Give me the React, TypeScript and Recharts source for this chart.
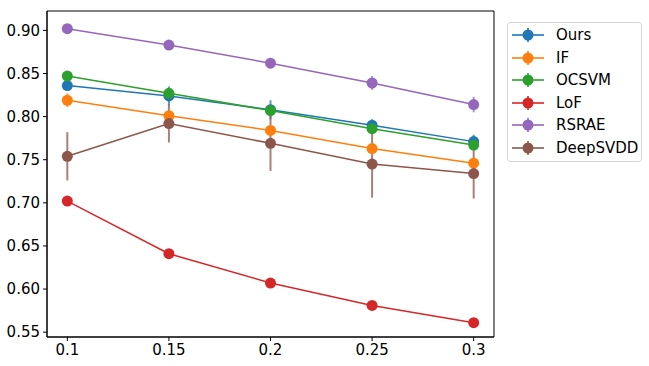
import React from "react";
import {
  LineChart,
  Line,
  XAxis,
  YAxis,
  ErrorBar,
  ReferenceArea,
} from "recharts";

// contamination ratios on the x axis
const ratios = [0.1, 0.15, 0.2, 0.25, 0.3];
const xTicks = [0.1, 0.15, 0.2, 0.25, 0.3];
const yTicks = [0.55, 0.6, 0.65, 0.7, 0.75, 0.8, 0.85, 0.9];

const oursVals = [0.836, 0.824, 0.808, 0.79, 0.771];
const oursErr = [0.004, 0.011, 0.011, 0.007, 0.008];
const ifVals = [0.819, 0.801, 0.784, 0.763, 0.746];
const ifErr = [0.008, 0.004, 0.004, 0.004, 0.004];
const ocsvmVals = [0.847, 0.827, 0.807, 0.786, 0.767];
const ocsvmErr = [0.003, 0.005, 0.005, 0.004, 0.004];
const lofVals = [0.702, 0.641, 0.607, 0.581, 0.561];
const lofErr = [0.002, 0.002, 0.002, 0.002, 0.002];
const rsraeVals = [0.902, 0.883, 0.862, 0.839, 0.814];
const rsraeErr = [0.003, 0.003, 0.004, 0.008, 0.009];
const deepVals = [0.754, 0.792, 0.769, 0.745, 0.734];
const deepErr = [0.028, 0.022, 0.032, 0.039, 0.029];

const series = [
  { key: "ours", name: "Ours", color: "#1f77b4", vals: oursVals, err: oursErr },
  { key: "if", name: "IF", color: "#ff7f0e", vals: ifVals, err: ifErr },
  { key: "ocsvm", name: "OCSVM", color: "#2ca02c", vals: ocsvmVals, err: ocsvmErr },
  { key: "lof", name: "LoF", color: "#d62728", vals: lofVals, err: lofErr },
  { key: "rsrae", name: "RSRAE", color: "#9467bd", vals: rsraeVals, err: rsraeErr },
  { key: "deep", name: "DeepSVDD", color: "#8c564b", vals: deepVals, err: deepErr },
];

const data = ratios.map((x, i) => {
  const row: Record<string, number> = { x };
  series.forEach((s) => {
    row[s.key] = s.vals[i];
    row[s.key + "Err"] = s.err[i];
  });
  return row;
});

const FONT = "'DejaVu Sans', sans-serif";
const X_DOMAIN: [number, number] = [0.09, 0.31];
const Y_DOMAIN: [number, number] = [0.5444, 0.9225];

const tickStyle = { fontSize: 15, fill: "#000", fontFamily: FONT };

const LegendBox = () => (
  <div
    style={{
      position: "absolute",
      left: 507,
      top: 22,
      width: 133,
      height: 138,
      border: "1px solid #d6d6d6",
      borderRadius: 3,
      background: "#fff",
      fontFamily: FONT,
      fontSize: 15,
    }}
  >
    {series.map((s, i) => (
      <div
        key={s.key}
        style={{
          position: "absolute",
          left: 0,
          top: 1 + i * 22.5,
          height: 22,
          display: "flex",
          alignItems: "center",
        }}
      >
        <svg width={46} height={22} style={{ display: "block" }}>
          <line x1={4} x2={36} y1={11} y2={11} stroke={s.color} strokeWidth={2} strokeOpacity={0.8} />
          <line x1={20} x2={20} y1={4} y2={18} stroke={s.color} strokeWidth={2} strokeOpacity={0.8} />
          <circle cx={20} cy={11} r={5.5} fill={s.color} />
        </svg>
        <span style={{ marginLeft: 2, color: "#000" }}>{s.name}</span>
      </div>
    ))}
  </div>
);

export default function App() {
  return (
    <div
      style={{
        position: "absolute",
        left: 0,
        top: 0,
        width: 649,
        height: 366,
        background: "#fff",
      }}
    >
      <LineChart
        width={649}
        height={366}
        data={data}
        margin={{ top: 11, right: 155, bottom: 0, left: 0 }}
      >
        <XAxis
          dataKey="x"
          type="number"
          domain={X_DOMAIN}
          ticks={xTicks}
          allowDataOverflow
          tickFormatter={(v: number) => String(v)}
          tick={tickStyle}
          tickSize={4}
          tickMargin={3}
          height={29}
          stroke="#000"
          interval={0}
        />
        <YAxis
          type="number"
          domain={Y_DOMAIN}
          ticks={yTicks}
          allowDataOverflow
          tickFormatter={(v: number) => v.toFixed(2)}
          tick={tickStyle}
          tickSize={4}
          tickMargin={3}
          width={47}
          stroke="#000"
          interval={0}
        />
        <ReferenceArea
          x1={X_DOMAIN[0]}
          x2={X_DOMAIN[1]}
          y1={Y_DOMAIN[0]}
          y2={Y_DOMAIN[1]}
          fill="none"
          fillOpacity={0}
          stroke="#000"
          strokeWidth={1}
          strokeOpacity={1}
        />
        {series.map((s) => (
          <Line
            key={s.key}
            dataKey={s.key}
            name={s.name}
            type="linear"
            stroke={s.color}
            strokeWidth={1.5}
            dot={{ r: 5.5, fill: s.color, stroke: s.color, strokeWidth: 0 }}
            activeDot={false}
            isAnimationActive={false}
          >
            <ErrorBar
              dataKey={s.key + "Err"}
              direction="y"
              width={0}
              stroke={s.color}
              strokeWidth={2}
              strokeOpacity={0.75}
              isAnimationActive={false}
            />
          </Line>
        ))}
      </LineChart>
      <LegendBox />
    </div>
  );
}
